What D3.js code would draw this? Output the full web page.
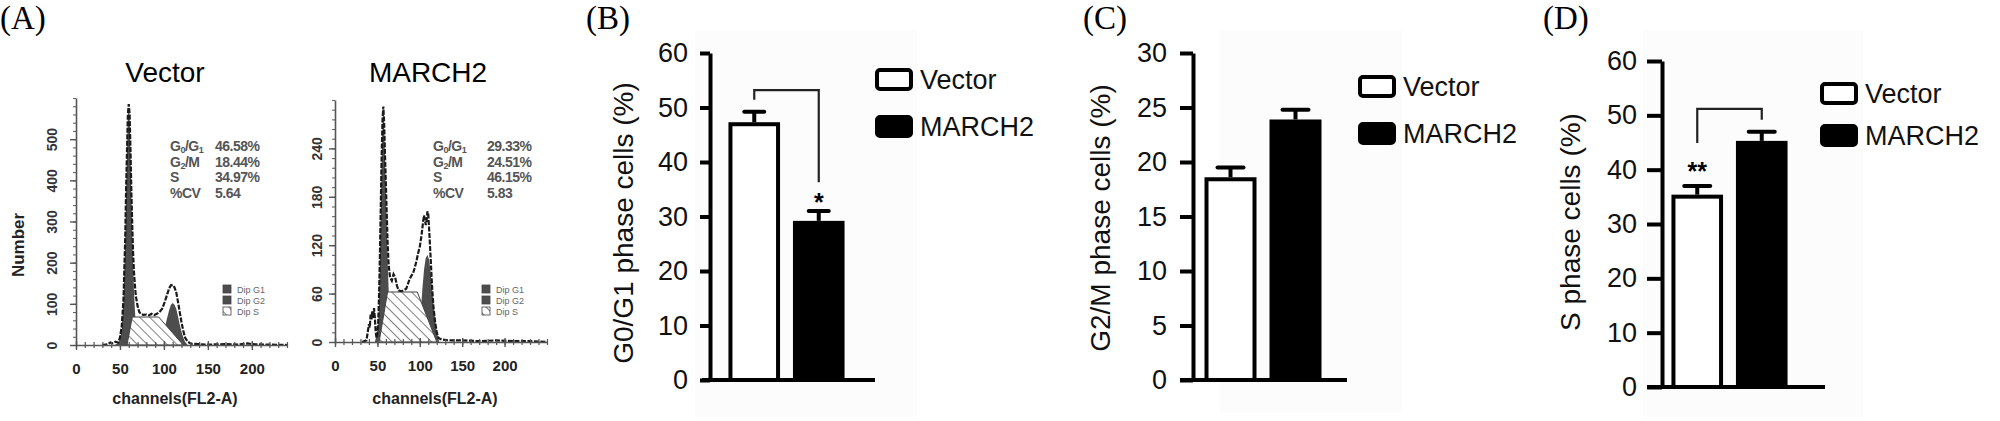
<!DOCTYPE html>
<html>
<head>
<meta charset="utf-8">
<script src="https://cdn.jsdelivr.net/npm/d3@7"></script>
<style>
  body { margin: 0; background: #fff; }
  svg { display: block; font-family: "Liberation Sans", Arial, sans-serif; }
</style>
</head>
<body>
<svg id="chart" width="2000" height="421"></svg>
<script>
// ---- data: flow cytometry histograms (channel, count) ----
const channelTicks = [0, 50, 100, 150, 200];
const vectorCountTicks = [0, 100, 200, 300, 400, 500];
const march2CountTicks = [0, 60, 120, 180, 240];

const vectorTotal = [[30,0],[36,2],[39,6],[42,4],[45,8],[48,6],[50,18],[52,45],[54,110],[56,260],[57,380],[58,470],[59,560],[60,585],[61,560],[62,470],[63,370],[64,290],[65,220],[66,175],[67,145],[68,120],[70,95],[72,80],[74,75],[77,73],[80,74],[83,72],[86,76],[89,73],[92,76],[95,80],[98,88],[101,105],[104,125],[106,138],[108,145],[110,146],[112,140],[114,128],[116,105],[118,80],[120,55],[122,35],[124,18],[127,8],[131,3],[140,2],[150,1],[170,2],[185,1],[195,4],[200,2],[215,1],[240,0]];
const vectorG1 = [[44,0],[48,5],[50,15],[52,40],[54,105],[56,255],[57,375],[58,465],[59,555],[60,578],[61,555],[62,465],[63,360],[64,270],[65,190],[66,130],[67,85],[68,50],[70,20],[72,5],[74,0]];
const vectorS = [[58,0],[64,68],[94,68],[122,0]];
const vectorG2 = [[96,0],[100,30],[103,60],[106,85],[108,98],[110,102],[112,98],[114,88],[116,70],[118,50],[120,32],[122,18],[124,8],[127,0]];

const march2Total = [[32,0],[37,2],[38,8],[40,22],[41,18],[42,34],[43,28],[44,38],[45,30],[46,42],[47,30],[48,12],[49,5],[50,10],[51,25],[52,60],[53,110],[54,170],[55,230],[56,275],[57,292],[58,270],[59,230],[60,195],[61,160],[62,125],[63,100],[64,88],[65,80],[67,76],[69,84],[71,80],[73,70],[75,64],[78,63],[81,64],[84,66],[86,72],[88,78],[90,82],[92,85],[94,92],[96,100],[98,110],[100,118],[102,132],[104,150],[105,157],[106,152],[107,145],[108,150],[109,162],[110,158],[111,140],[112,120],[113,100],[114,78],[115,60],[116,45],[118,25],[120,12],[122,5],[126,3],[135,2],[150,2],[170,1],[190,2],[210,1],[230,1],[250,0]];
const march2G1 = [[47,0],[49,8],[51,22],[52,55],[53,105],[54,165],[55,225],[56,270],[57,287],[58,265],[59,225],[60,185],[61,145],[62,105],[63,72],[64,45],[65,25],[67,8],[69,0]];
const march2S = [[52,0],[62,62],[97,62],[120,0]];
const march2G2 = [[98,0],[101,35],[103,65],[105,90],[107,104],[109,108],[111,102],[113,85],[115,60],[117,38],[119,20],[121,8],[123,0]];

const statNames = [["G","0","/G","1"], ["G","2","/M",""], ["S","","",""], ["%CV","","",""]];
const vectorStats = ["46.58%", "18.44%", "34.97%", "5.64"];
const march2Stats = ["29.33%", "24.51%", "46.15%", "5.83"];
const dipLabels = ["Dip G1", "Dip G2", "Dip S"];

// ---- data: bar charts ----
const groups = ["Vector", "MARCH2"];
const g0g1Means = [47.3, 29.2];
const g0g1Err = [1.9, 1.8];
const g2mMeans = [18.6, 23.9];
const g2mErr = [0.9, 0.9];
const sMeans = [35.4, 45.3];
const sErr = [1.6, 1.7];
const g0g1Ticks = [0, 10, 20, 30, 40, 50, 60];
const g2mTicks = [0, 5, 10, 15, 20, 25, 30];
const sTicks = [0, 10, 20, 30, 40, 50, 60];
// bracket: [top, left leg end, right leg end]
const g0g1Bracket = [53.2, 51.4, 36.3];
const sBracket = [51.2, 44.9, 49.2];

const svg = d3.select("#chart");
svg.append("rect").attr("width", 2000).attr("height", 421).attr("fill", "#fff");

const defs = svg.append("defs");
const hatch = defs.append("pattern")
    .attr("id", "hatch")
    .attr("patternUnits", "userSpaceOnUse")
    .attr("width", 7).attr("height", 7)
    .attr("patternTransform", "rotate(-45)");
hatch.append("rect").attr("width", 7).attr("height", 7).attr("fill", "#fff");
hatch.append("line").attr("x1", 0).attr("y1", 0).attr("x2", 0).attr("y2", 7)
    .attr("stroke", "#4a4a4a").attr("stroke-width", 1.4);

// panel letters
[["(A)", 0], ["(B)", 586], ["(C)", 1083], ["(D)", 1543]].forEach(([t, x]) => {
    svg.append("text").attr("x", x).attr("y", 29)
        .style("font-family", "'Liberation Serif', 'Times New Roman', serif")
        .style("font-size", "33px")
        .text(t);
});

function drawHistogram(cfg) {
    const g = svg.append("g");
    const x = d3.scaleLinear().domain([0, cfg.chanMax]).range([cfg.x0, cfg.x1]);
    const y = d3.scaleLinear().domain([0, cfg.countMax]).range([cfg.y0, cfg.y1]);
    const area = d3.area().x(d => x(d[0])).y0(y(0)).y1(d => y(d[1]));
    const line = d3.line().x(d => x(d[0])).y(d => y(d[1]));

    g.append("path").datum(cfg.g1).attr("d", area).attr("fill", "#4d4d4d");
    g.append("path").datum(cfg.g2).attr("d", area).attr("fill", "#4d4d4d");
    g.append("path").datum(cfg.s).attr("d", area)
        .attr("fill", "url(#hatch)").attr("stroke", "#444").attr("stroke-width", 1);
    g.append("path").datum(cfg.total).attr("d", line)
        .attr("fill", "none").attr("stroke", "#1a1a1a")
        .attr("stroke-width", 2.2).attr("stroke-dasharray", "5,1.5");

    // x axis: minor + major ticks
    const xMinor = g.append("g").attr("transform", `translate(0,${cfg.y0})`)
        .call(d3.axisBottom(x).tickValues(d3.range(0, cfg.chanMax + 1, 10)).tickSize(3).tickFormat(""));
    xMinor.select(".domain").remove();
    xMinor.selectAll(".tick line").attr("y1", -3).attr("stroke", "#555").attr("stroke-width", 1.2);

    const xMajor = g.append("g").attr("transform", `translate(0,${cfg.y0})`)
        .call(d3.axisBottom(x).tickValues(channelTicks).tickSize(5).tickSizeOuter(0).tickPadding(13));
    xMajor.select(".domain").attr("stroke", "#555").attr("stroke-width", 1.6);
    xMajor.selectAll(".tick line").attr("y1", -4).attr("stroke", "#555").attr("stroke-width", 1.4);
    xMajor.selectAll("text").style("font-size", "15px").style("font-weight", "bold").attr("fill", "#222");

    // y axis
    const yMinor = g.append("g").attr("transform", `translate(${cfg.x0},0)`)
        .call(d3.axisLeft(y).tickValues(d3.range(0, cfg.countMax + 1, cfg.minorStep)).tickSize(3).tickFormat(""));
    yMinor.select(".domain").remove();
    yMinor.selectAll(".tick line").attr("stroke", "#666").attr("stroke-width", 1.1);

    const yMajor = g.append("g").attr("transform", `translate(${cfg.x0},0)`)
        .call(d3.axisLeft(y).tickValues(cfg.countTicks).tickSize(6).tickSizeOuter(0));
    yMajor.select(".domain").attr("stroke", "#555").attr("stroke-width", 1.6);
    yMajor.selectAll(".tick line").attr("stroke", "#555").attr("stroke-width", 1.4);
    yMajor.selectAll("text")
        .attr("transform", "rotate(-90)")
        .attr("x", 0).attr("y", -cfg.labelGap).attr("dy", 0)
        .attr("text-anchor", "middle")
        .style("font-size", "14px").style("font-weight", "bold").attr("fill", "#333");

    // title & x label
    g.append("text").attr("x", cfg.titleX).attr("y", 82).attr("text-anchor", "middle")
        .style("font-size", "28px").text(cfg.title);
    g.append("text").attr("x", cfg.xLabelX).attr("y", 404).attr("text-anchor", "middle")
        .style("font-size", "16px").style("font-weight", "bold").attr("fill", "#222")
        .text("channels(FL2-A)");

    // stats block
    statNames.forEach((parts, i) => {
        const t = g.append("text").attr("x", cfg.statX).attr("y", 151 + i * 15.6)
            .style("font-size", "14px").style("font-weight", "bold")
            .attr("fill", "#555").attr("letter-spacing", "-0.5");
        parts.forEach((p, j) => {
            if (!p) return;
            const ts = t.append("tspan").text(p);
            if (j % 2 === 1) ts.attr("baseline-shift", "-25%").style("font-size", "9px");
        });
        g.append("text").attr("x", cfg.valX).attr("y", 151 + i * 15.6)
            .style("font-size", "14px").style("font-weight", "bold")
            .attr("fill", "#555").attr("letter-spacing", "-0.5")
            .text(cfg.stats[i]);
    });

    // small legend
    dipLabels.forEach((d, i) => {
        const yy = cfg.dipY + i * 11;
        g.append("rect").attr("x", cfg.dipX).attr("y", yy).attr("width", 8).attr("height", 8)
            .attr("fill", i < 2 ? "#4d4d4d" : "url(#hatch)").attr("stroke", "#444").attr("stroke-width", 0.8);
        g.append("text").attr("x", cfg.dipX + 14).attr("y", yy + 7.5)
            .style("font-size", "9px").attr("fill", "#666").text(d);
    });
}

drawHistogram({
    title: "Vector", titleX: 165, xLabelX: 175,
    x0: 76, x1: 287, chanMax: 240,
    y0: 345, y1: 98, countMax: 600, countTicks: vectorCountTicks, minorStep: 20, labelGap: 19,
    total: vectorTotal, g1: vectorG1, g2: vectorG2, s: vectorS,
    stats: vectorStats, statX: 170, valX: 215,
    dipX: 223, dipY: 285
});
drawHistogram({
    title: "MARCH2", titleX: 428, xLabelX: 435,
    x0: 335, x1: 547, chanMax: 250,
    y0: 342, y1: 100, countMax: 300, countTicks: march2CountTicks, minorStep: 12, labelGap: 13,
    total: march2Total, g1: march2G1, g2: march2G2, s: march2S,
    stats: march2Stats, statX: 433, valX: 487,
    dipX: 482, dipY: 285
});

// "Number" label
svg.append("text").attr("transform", "translate(24,245) rotate(-90)")
    .attr("text-anchor", "middle")
    .style("font-size", "17px").style("font-weight", "bold").attr("fill", "#222")
    .text("Number");

function drawBars(cfg) {
    const g = svg.append("g");
    g.append("rect").attr("x", cfg.bg[0]).attr("y", cfg.bg[1]).attr("width", cfg.bg[2]).attr("height", cfg.bg[3])
        .attr("fill", "#fcfcfc");

    const y = d3.scaleLinear().domain([0, cfg.max]).range([cfg.y0, cfg.yTop]);
    const x = d3.scaleBand().domain(groups).range(cfg.band).paddingInner(0.2).paddingOuter(0.1);

    const yAxis = g.append("g").attr("transform", `translate(${cfg.axisX},0)`)
        .call(d3.axisLeft(y).tickValues(cfg.ticks).tickSize(cfg.tickLen).tickSizeOuter(0).tickPadding(cfg.pad));
    yAxis.select(".domain").attr("stroke", "#000").attr("stroke-width", 4);
    yAxis.selectAll(".tick line").attr("stroke", "#000").attr("stroke-width", 4);
    yAxis.selectAll("text").style("font-size", "27px").attr("fill", "#111");

    g.append("line").attr("x1", cfg.xStart).attr("x2", cfg.xEnd)
        .attr("y1", y(0)).attr("y2", y(0)).attr("stroke", "#000").attr("stroke-width", 4);

    // error bars
    g.selectAll("line.err").data(groups).enter().append("line").attr("class", "err")
        .attr("x1", d => x(d) + x.bandwidth() / 2).attr("x2", d => x(d) + x.bandwidth() / 2)
        .attr("y1", (d, i) => y(cfg.means[i])).attr("y2", (d, i) => y(cfg.means[i] + cfg.err[i]))
        .attr("stroke", "#000").attr("stroke-width", 4);
    g.selectAll("line.cap").data(groups).enter().append("line").attr("class", "cap")
        .attr("x1", d => x(d) + x.bandwidth() / 2 - cfg.capW / 2)
        .attr("x2", d => x(d) + x.bandwidth() / 2 + cfg.capW / 2)
        .attr("y1", (d, i) => y(cfg.means[i] + cfg.err[i])).attr("y2", (d, i) => y(cfg.means[i] + cfg.err[i]))
        .attr("stroke", "#000").attr("stroke-width", 4).attr("stroke-linecap", "round");

    // bars
    g.selectAll("rect.bar").data(groups).enter().append("rect").attr("class", "bar")
        .attr("x", d => x(d) + 2).attr("width", x.bandwidth() - 4)
        .attr("y", (d, i) => y(cfg.means[i]) + 2)
        .attr("height", (d, i) => y(0) - y(cfg.means[i]) - 2)
        .attr("fill", (d, i) => i === 0 ? "#fff" : "#000")
        .attr("stroke", "#000").attr("stroke-width", 4);

    // significance bracket
    if (cfg.bracket) {
        const xl = x(groups[0]) + x.bandwidth() / 2;
        const xr = x(groups[1]) + x.bandwidth() / 2;
        const b = cfg.bracket;
        g.append("path")
            .attr("d", `M${xl},${y(b[1])}V${y(b[0])}H${xr}V${y(b[2])}`)
            .attr("fill", "none").attr("stroke", "#222").attr("stroke-width", 2.2);
        const sx = cfg.starOn === 0 ? xl : xr;
        g.append("text").attr("x", sx).attr("y", y(cfg.starY) + 14)
            .attr("text-anchor", "middle")
            .style("font-size", "25px").style("font-weight", "bold")
            .text(cfg.star);
    }

    // y title
    g.append("text").attr("transform", `translate(${cfg.titleX},${cfg.titleY}) rotate(-90)`)
        .attr("text-anchor", "middle").attr("dy", "0.35em")
        .style("font-size", "28px").attr("fill", "#111")
        .text(cfg.title);

    // legend
    groups.forEach((name, i) => {
        const ly = cfg.legY[i];
        g.append("rect").attr("x", cfg.legX + 2).attr("y", ly + 2).attr("width", 34).attr("height", 19)
            .attr("rx", 3)
            .attr("fill", i === 0 ? "#fff" : "#000").attr("stroke", "#000").attr("stroke-width", 4);
        g.append("text").attr("x", cfg.legX + 45).attr("y", ly + 20.5)
            .style("font-size", "27px").attr("fill", "#111").text(name);
    });
}

drawBars({
    title: "G0/G1  phase cells (%)", titleX: 623, titleY: 223,
    means: g0g1Means, err: g0g1Err, max: 60, ticks: g0g1Ticks,
    axisX: 710, y0: 380, yTop: 53, tickLen: 10, pad: 12,
    xStart: 702, xEnd: 875, band: [722, 851], capW: 20,
    bracket: g0g1Bracket, star: "*", starOn: 1, starY: 33.6,
    legX: 875, legY: [68, 115], bg: [695, 30, 222, 387]
});
drawBars({
    title: "G2/M phase cells (%)", titleX: 1100, titleY: 218,
    means: g2mMeans, err: g2mErr, max: 30, ticks: g2mTicks,
    axisX: 1193, y0: 380, yTop: 53, tickLen: 13, pad: 13,
    xStart: 1180, xEnd: 1347, band: [1198, 1328], capW: 26,
    legX: 1358, legY: [75, 122], bg: [1220, 30, 182, 383]
});
drawBars({
    title: "S phase cells (%)", titleX: 1570, titleY: 222,
    means: sMeans, err: sErr, max: 60, ticks: sTicks,
    axisX: 1662, y0: 387, yTop: 61, tickLen: 15, pad: 10,
    xStart: 1647, xEnd: 1825, band: [1665, 1794], capW: 26,
    bracket: sBracket, star: "**", starOn: 0, starY: 40.7,
    legX: 1820, legY: [82, 124], bg: [1643, 30, 220, 387]
});
</script>
</body>
</html>
